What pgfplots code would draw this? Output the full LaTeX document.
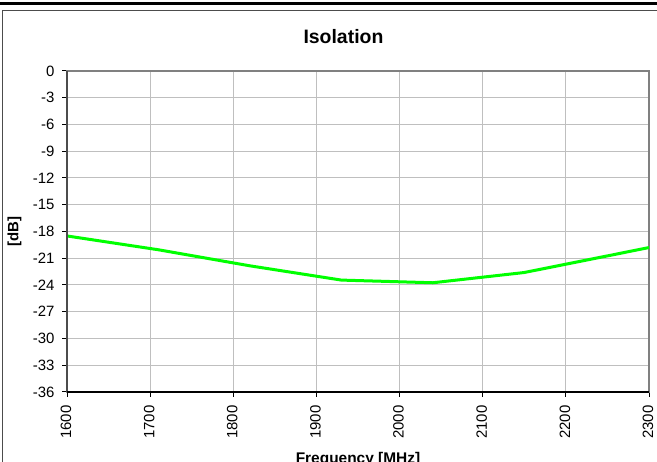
\documentclass[border=0pt]{standalone}
\usepackage{pgfplots}
\pgfplotsset{compat=1.18}
\usepackage{fontspec}
\setmainfont{Liberation Sans}
\definecolor{linegreen}{RGB}{0,255,0}
\begin{document}
\begin{tikzpicture}[x=1bp,y=1bp]
\useasboundingbox (0,0) rectangle (657,462);
\draw[line width=3bp, black] (0,458) -- (657,458);
\draw[line width=1.5bp, black!70] (2.5,-5) -- (2.5,451.5) -- (665,451.5);
\begin{axis}[
  at={(67bp,70bp)}, anchor=south west,
  scale only axis, width=582bp, height=321bp,
  xmin=1600, xmax=2300, ymin=-36, ymax=0,
  xtick={1600,1700,...,2300}, ytick={-36,-33,...,0},
  grid=major, major grid style={line width=1bp, color=black!25},
  axis line style={line width=1.5bp, color=black!50},
  tick align=outside, tick pos=left, major tick length=5bp,
  tick style={black, line width=1bp},
  /pgf/number format/assume math mode=true,
  /pgf/number format/1000 sep={},
  ticklabel style={font=\fontsize{15}{17}\selectfont},
  yticklabel style={xshift=-4bp},
  xticklabel style={yshift=-5bp, xshift=-1bp, rotate=90, anchor=east},
  title={Isolation},
  title style={at={(axis description cs:0.475,1)}, anchor=base, yshift=22bp, inner sep=0pt,
    font=\bfseries\fontsize{19.5}{22}\selectfont},
  ylabel={[dB]},
  ylabel style={at={(axis description cs:-0.0902,0.5)}, anchor=center, rotate=0,
    font=\bfseries\fontsize{15}{18}\selectfont},
  xlabel={Frequency [MHz]},
  xlabel style={at={(axis description cs:0.5,0)}, anchor=base, yshift=-72bp, inner sep=0pt,
    font=\bfseries\fontsize{15.5}{18}\selectfont},
  clip=false,
]
\addplot[linegreen, line width=3bp] coordinates {
  (1600,-18.5) (1710,-20.05) (1820,-21.85) (1930,-23.45) (2040,-23.75)
  (2150,-22.6) (2260,-20.55) (2300,-19.8)
};
\draw[line width=2bp, black!70] (rel axis cs:0,0) -- (rel axis cs:0,1);
\draw[line width=1.5bp, black] (rel axis cs:0,0) -- (rel axis cs:1,0);
\end{axis}
\end{tikzpicture}
\end{document}
